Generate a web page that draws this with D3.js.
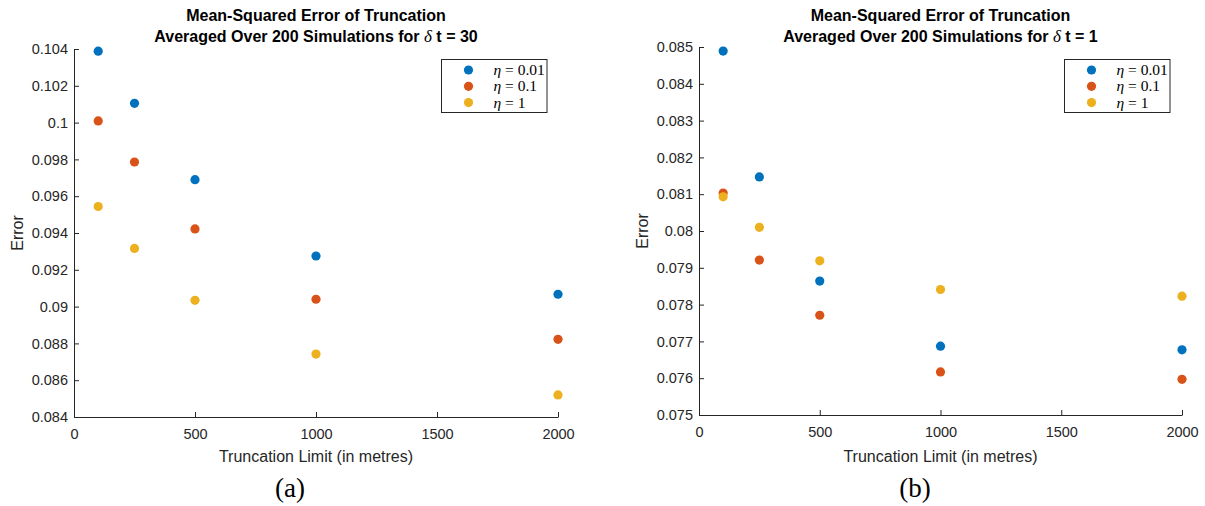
<!DOCTYPE html>
<html>
<head>
<meta charset="utf-8">
<script src="https://cdn.jsdelivr.net/npm/d3@7"></script>
<style>
  html, body { margin: 0; padding: 0; background: #fff; }
  svg { display: block; }
</style>
</head>
<body>
<svg id="chart" width="1205" height="506"></svg>
<script>
// ---------- data ----------
const truncationLimits = [100, 250, 500, 1000, 2000];
const seriesNames = ["0.01", "0.1", "1"];
const seriesColors = ["#0072BD", "#D95319", "#EDB120"];

// Panel (a): delta t = 30
const errA_eta001 = [0.10388, 0.10105, 0.09690, 0.09275, 0.09067];
const errA_eta01  = [0.10009, 0.09786, 0.09422, 0.09040, 0.08822];
const errA_eta1   = [0.09544, 0.09316, 0.09034, 0.08742, 0.08520];

// Panel (b): delta t = 1
const errB_eta001 = [0.08489, 0.08147, 0.07864, 0.07687, 0.07677];
const errB_eta01  = [0.08103, 0.07921, 0.07771, 0.07617, 0.07597];
const errB_eta1   = [0.08093, 0.08010, 0.07919, 0.07841, 0.07823];

const xTicks = [0, 500, 1000, 1500, 2000];
const yTicksA = [0.084, 0.086, 0.088, 0.090, 0.092, 0.094, 0.096, 0.098, 0.100, 0.102, 0.104];
const yTicksB = [0.075, 0.076, 0.077, 0.078, 0.079, 0.080, 0.081, 0.082, 0.083, 0.084, 0.085];

const titleLine1 = "Mean-Squared Error of Truncation";
const titleLine2A = "30";
const titleLine2B = "1";
const xLabel = "Truncation Limit (in metres)";
const yLabel = "Error";

// ---------- drawing ----------
const svg = d3.select("#chart");
const sansFont = "'Liberation Sans', Arial, Helvetica, sans-serif";
const serifFont = "'Liberation Serif', 'Times New Roman', serif";
const axisColor = "#262626";

function drawPanel(p) {
  const x = d3.scaleLinear().domain([0, 2000]).range([p.left, p.right]);
  const y = d3.scaleLinear().domain(p.yDomain).range([p.bottom, p.top]);
  const g = svg.append("g");

  const fmt = d => String(+d.toFixed(3));

  // x axis (ticks inward)
  const gx = g.append("g")
    .attr("transform", `translate(0,${p.bottom})`)
    .call(d3.axisBottom(x).tickValues(xTicks).tickSize(-5).tickSizeOuter(0).tickPadding(12).tickFormat(d3.format("d")));
  gx.select(".domain").attr("stroke", axisColor).attr("stroke-width", 1);
  gx.selectAll(".tick line").attr("stroke", axisColor);
  gx.selectAll(".tick text").attr("fill", axisColor).style("font-family", sansFont).style("font-size", "14.5px");

  // y axis (ticks inward)
  const gy = g.append("g")
    .attr("transform", `translate(${p.left},0)`)
    .call(d3.axisLeft(y).tickValues(p.yTicks).tickSize(-5).tickSizeOuter(0).tickPadding(6).tickFormat(fmt));
  gy.select(".domain").attr("stroke", axisColor).attr("stroke-width", 1);
  gy.selectAll(".tick line").attr("stroke", axisColor);
  gy.selectAll(".tick text").attr("fill", axisColor).style("font-family", sansFont).style("font-size", "14.5px");

  // labels
  g.append("text")
    .attr("x", (p.left + p.right) / 2).attr("y", 462)
    .attr("text-anchor", "middle").attr("fill", axisColor)
    .style("font-family", sansFont).style("font-size", "16px")
    .text(xLabel);
  g.append("text")
    .attr("transform", `translate(${p.left - 51},${(p.top + p.bottom) / 2}) rotate(-90)`)
    .attr("text-anchor", "middle").attr("fill", axisColor)
    .style("font-family", sansFont).style("font-size", "16px")
    .text(yLabel);

  // title
  const cx = (p.left + p.right) / 2;
  g.append("text")
    .attr("x", cx).attr("y", 21).attr("text-anchor", "middle")
    .style("font-family", sansFont).style("font-size", "16px").style("font-weight", "bold")
    .text(titleLine1);
  const t2 = g.append("text")
    .attr("x", cx).attr("y", 42).attr("text-anchor", "middle")
    .style("font-family", sansFont).style("font-size", "16px").style("font-weight", "bold");
  t2.append("tspan").text("Averaged Over 200 Simulations for ");
  t2.append("tspan").style("font-family", serifFont).style("font-style", "italic").style("font-weight", "normal").style("font-size", "17px").text("δ");
  t2.append("tspan").text(" t = " + p.dt);

  // points
  p.series.forEach((vals, si) => {
    g.append("g").selectAll("circle")
      .data(truncationLimits.map((t, i) => ({ t, v: vals[i] })))
      .join("circle")
      .attr("cx", d => x(d.t)).attr("cy", d => y(d.v))
      .attr("r", 4.6).attr("fill", seriesColors[si]);
  });

  // legend
  const lg = g.append("g");
  lg.append("rect")
    .attr("x", p.legendX).attr("y", 59.5).attr("width", 105.5).attr("height", 53)
    .attr("fill", "#fff").attr("stroke", axisColor).attr("stroke-width", 1);
  seriesNames.forEach((name, i) => {
    const ry = 70 + i * 16.3;
    lg.append("circle").attr("cx", p.legendX + 27).attr("cy", ry).attr("r", 4.6).attr("fill", seriesColors[i]);
    const tx = lg.append("text").attr("x", p.legendX + 52).attr("y", ry + 5)
      .style("font-family", serifFont).style("font-size", "15.5px").attr("fill", "#000");
    tx.append("tspan").style("font-style", "italic").text("η");
    tx.append("tspan").text(" = " + name);
  });

  // panel label
  g.append("text")
    .attr("x", p.left + 216).attr("y", 497).attr("text-anchor", "middle")
    .style("font-family", serifFont).style("font-size", "27px").attr("fill", "#000")
    .text(p.panelLabel);
}

drawPanel({
  left: 74, right: 558, top: 49, bottom: 417,
  yDomain: [0.084, 0.104], yTicks: yTicksA,
  series: [errA_eta001, errA_eta01, errA_eta1],
  dt: titleLine2A, legendX: 441.5, panelLabel: "(a)"
});
drawPanel({
  left: 699, right: 1182, top: 47, bottom: 415,
  yDomain: [0.075, 0.085], yTicks: yTicksB,
  series: [errB_eta001, errB_eta01, errB_eta1],
  dt: titleLine2B, legendX: 1064.5, panelLabel: "(b)"
});
</script>
</body>
</html>
